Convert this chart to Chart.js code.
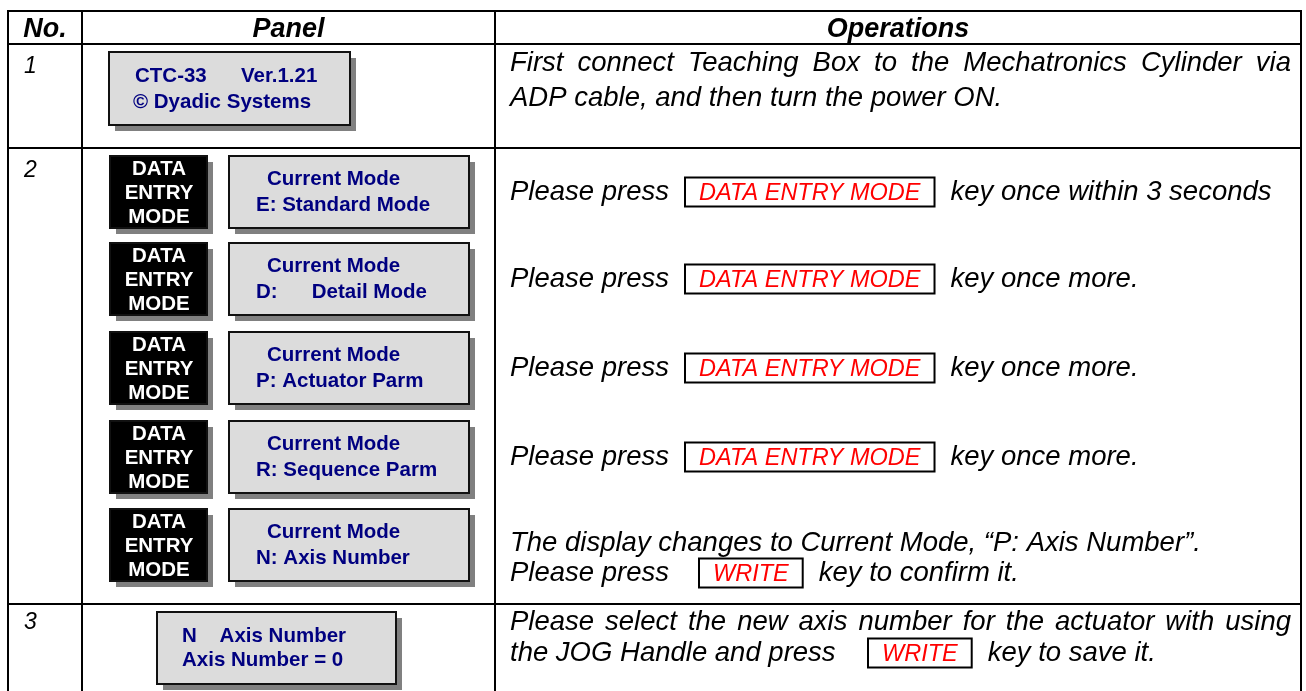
<!DOCTYPE html>
<html>
<head>
<meta charset="utf-8">
<script src="https://cdn.jsdelivr.net/npm/chart.js@4"></script>
<style>
  html, body { margin: 0; padding: 0; background: #fff; }
  #wrap { width: 1306px; height: 691px; }
</style>
</head>
<body>
<div id="wrap"><canvas id="sheet"></canvas></div>
<script>
// table content
const headers = ["No.", "Panel", "Operations"];
const rowNumbers = ["1", "2", "3"];
const bootLines = ["CTC-33      Ver.1.21", "\u00a9 Dyadic Systems"];
const keyLabel = ["DATA", "ENTRY", "MODE"];
const modeTitle = "Current Mode";
const modeLines = ["E: Standard Mode", "D:      Detail Mode", "P: Actuator Parm", "R: Sequence Parm", "N: Axis Number"];
const axisLines = ["N    Axis Number", "Axis Number = 0"];
// operations text, [KEY] marks a boxed key
const opLines = [
  "First connect Teaching Box to the Mechatronics Cylinder via",
  "ADP cable, and then turn the power ON.",
  "Please press [DATA ENTRY MODE] key once within 3 seconds",
  "Please press [DATA ENTRY MODE] key once more.",
  "Please press [DATA ENTRY MODE] key once more.",
  "Please press [DATA ENTRY MODE] key once more.",
  "The display changes to Current Mode, \u201cP: Axis Number\u201d.",
  "Please press [WRITE] key to confirm it.",
  "Please select the new axis number for the actuator with using",
  "the JOG Handle and press [WRITE] key to save it."
];

// layout (pixels in a 1306 x 691 frame)
const colX = [8, 82, 495, 1301];
const rowY = [11, 44, 148, 604];
const opY = [63, 98, 192, 279, 368, 457, 543, 573, 622, 653];
const opJustify = [true, false, false, false, false, false, false, false, true, false];
const keyX = {2: 685, 3: 685, 4: 685, 5: 685, 7: 699, 9: 868};
const modeTop = [156, 243, 332, 421, 509];
const FONT = '"Liberation Sans", Arial, Helvetica, sans-serif';
const NAVY = "#000080";

const tablePlugin = {
  id: "tablePlugin",
  afterDraw(chart) {
    const { ctx, scales: { x, y } } = chart;
    const X = v => x.getPixelForValue(v);
    const Y = v => y.getPixelForValue(v);
    ctx.save();

    // grid
    ctx.strokeStyle = "#000";
    ctx.lineWidth = 2;
    ctx.beginPath();
    rowY.forEach(r => { ctx.moveTo(X(colX[0] - 1), Y(r)); ctx.lineTo(X(colX[3] + 1), Y(r)); });
    colX.forEach(c => { ctx.moveTo(X(c), Y(rowY[0])); ctx.lineTo(X(c), Y(691)); });
    ctx.stroke();

    // header
    ctx.fillStyle = "#000";
    ctx.font = "italic bold 27px " + FONT;
    ctx.textBaseline = "alphabetic";
    ctx.textAlign = "center";
    headers.forEach((h, i) => ctx.fillText(h, X((colX[i] + colX[i + 1]) / 2), Y(37)));

    // row numbers
    ctx.font = "italic 23px " + FONT;
    ctx.textAlign = "left";
    [73, 177, 629].forEach((b, i) => ctx.fillText(rowNumbers[i], X(24), Y(b)));

    function panel(x0, y0, x1, y1, fill) {
      ctx.fillStyle = "#808080";
      ctx.fillRect(X(x0 + 6), Y(y0 + 6), X(x1) - X(x0), Y(y1) - Y(y0));
      ctx.fillStyle = fill;
      ctx.fillRect(X(x0), Y(y0), X(x1) - X(x0), Y(y1) - Y(y0));
      ctx.strokeStyle = "#111";
      ctx.lineWidth = 2;
      ctx.strokeRect(X(x0), Y(y0), X(x1) - X(x0), Y(y1) - Y(y0));
    }

    // row 1 panel
    panel(109, 52, 350, 125, "#dcdcdc");
    ctx.font = "bold 20.5px " + FONT;
    ctx.fillStyle = NAVY;
    ctx.textAlign = "left";
    ctx.textBaseline = "alphabetic";
    ctx.fillText(bootLines[0], X(135), Y(82));
    ctx.fillText(bootLines[1], X(133), Y(108));

    // row 2 panels
    modeTop.forEach((t, i) => {
      panel(110, t, 207, t + 72, "#000");
      ctx.fillStyle = "#fff";
      ctx.font = "bold 20.5px " + FONT;
      ctx.textAlign = "center";
      ctx.textBaseline = "middle";
      keyLabel.forEach((k, j) => ctx.fillText(k, X(159), Y(t + 13 + j * 24)));
      panel(229, t, 469, t + 72, "#dcdcdc");
      ctx.fillStyle = NAVY;
      ctx.textAlign = "left";
      ctx.fillText(modeTitle, X(267), Y(t + 23));
      ctx.fillText(modeLines[i], X(256), Y(t + 49));
    });

    // row 3 panel
    panel(157, 612, 396, 684, "#dcdcdc");
    ctx.fillStyle = NAVY;
    ctx.font = "bold 20.5px " + FONT;
    ctx.textAlign = "left";
    ctx.textBaseline = "middle";
    ctx.fillText(axisLines[0], X(182), Y(636));
    ctx.fillText(axisLines[1], X(182), Y(660));

    // operations
    const opFont = "italic 27.5px " + FONT;
    const keyFont = "italic 23.5px " + FONT;
    const left = 510, right = 1291;
    opLines.forEach((line, i) => {
      const cy = Y(opY[i]);
      ctx.textBaseline = "middle";
      ctx.textAlign = "left";
      ctx.fillStyle = "#000";
      ctx.font = opFont;
      const m = line.match(/^(.*?)\s*\[(.+?)\]\s*(.*)$/);
      if (!m) {
        if (opJustify[i]) {
          const words = line.split(" ");
          const wsum = words.reduce((s, w) => s + ctx.measureText(w).width, 0);
          const gap = (X(right) - X(left) - wsum) / (words.length - 1);
          let px = X(left);
          words.forEach(w => { ctx.fillText(w, px, cy); px += ctx.measureText(w).width + gap; });
        } else {
          ctx.fillText(line, X(left), cy);
        }
        return;
      }
      ctx.fillText(m[1], X(left), cy);
      ctx.font = keyFont;
      const kw = ctx.measureText(m[2]).width;
      const bx = X(keyX[i]);
      const bw = kw + 28;
      ctx.strokeStyle = "#000";
      ctx.lineWidth = 2;
      ctx.strokeRect(bx, cy - 14.5, bw, 29);
      ctx.fillStyle = "#ff0000";
      ctx.textAlign = "center";
      ctx.fillText(m[2], bx + bw / 2, cy + 1);
      ctx.fillStyle = "#000";
      ctx.textAlign = "left";
      ctx.font = opFont;
      ctx.fillText(m[3], bx + bw + 16, cy);
    });

    ctx.restore();
  }
};

new Chart(document.getElementById("sheet"), {
  type: "scatter",
  data: { datasets: [{ data: [] }] },
  options: {
    responsive: true,
    maintainAspectRatio: false,
    animation: false,
    layout: { padding: 0 },
    plugins: { legend: { display: false }, tooltip: { enabled: false } },
    scales: {
      x: { type: "linear", min: 0, max: 1306, display: false },
      y: { type: "linear", min: 0, max: 691, reverse: true, display: false }
    }
  },
  plugins: [tablePlugin]
});
</script>
</body>
</html>
